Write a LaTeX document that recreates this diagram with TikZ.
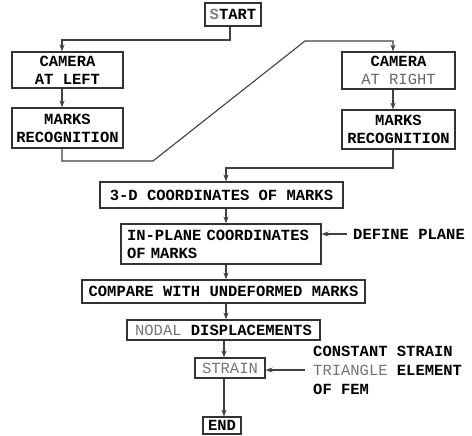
\documentclass[tikz,border=0pt]{standalone}
\usepackage{fontspec}
\setmainfont{Liberation Mono}
\usetikzlibrary{arrows.meta}
\begin{document}
\begin{tikzpicture}[x=1pt,y=-1pt,
  box/.style={draw=black!80,line width=1.1pt,inner sep=0pt,align=center,
    font=\fontsize{15.5pt}{18pt}\selectfont\bfseries},
  lbl/.style={inner sep=0pt,align=left,font=\fontsize{15.5pt}{19pt}\selectfont\bfseries},
  line/.style={draw=black!75,line width=1.1pt},
  arr/.style={line,-{Stealth[length=7pt,width=5pt]}}]
\useasboundingbox (0,0) rectangle (472,436);
\node[box,minimum width=56pt,minimum height=23pt] (start) at (233,14.5) {{\color{black!50}S}TART};
\node[box,minimum width=111pt,minimum height=36pt] (camL) at (67.5,70) {CAMERA\\AT LEFT};
\node[box,minimum width=111pt,minimum height=40pt] (marksL) at (67.5,128) {MARKS\\RECOGNITION};
\node[box,minimum width=113pt,minimum height=37pt] (camR) at (398.5,70.5) {CAMERA\\{\color{black!60}\mdseries AT RIGHT}};
\node[box,minimum width=113pt,minimum height=39pt] (marksR) at (398.5,129.5) {MARKS\\RECOGNITION};
\node[box,minimum width=243pt,minimum height=26pt] (c3d) at (221.5,195) {3-D COORDINATES OF MARKS};
\node[box,minimum width=200pt,minimum height=40pt,align=left,text width=188pt] (inplane) at (221,244) {IN-PLANE COORDINATES\\OF MARKS};
\node[box,minimum width=283pt,minimum height=23pt] (compare) at (223.5,291.5) {COMPARE WITH UNDEFORMED MARKS};
\node[box,minimum width=193pt,minimum height=20pt] (nodal) at (223.5,330) {{\color{black!55}\mdseries NODAL} DISPLACEMENTS};
\node[box,minimum width=70pt,minimum height=20pt] (strain) at (230,368) {{\color{black!55}\mdseries STRAIN}};
\node[box,minimum width=38pt,minimum height=17pt] (end) at (222,425.5) {END};
\node[lbl,anchor=west] (defp) at (353,234) {DEFINE PLANE};
\node[lbl,anchor=west] (cst) at (313,370) {CONSTANT STRAIN\\{\color{black!55}\mdseries TRIANGLE} ELEMENT\\OF FEM};
% connectors
\coordinate (a1) at (230,40);
\coordinate (a2) at (62,40);
\draw[arr] (start.south -| a1) -- (a1) -- (a2) -- (camL.north -| a2);
\draw[arr] (camL.south -| a2) -- (marksL.north -| a2);
\coordinate (b1) at (62,161);
\coordinate (b2) at (153,161);
\coordinate (b3) at (305,41);
\coordinate (b4) at (393,41);
\draw[arr] (marksL.south -| b1) -- (b1) -- (b2) -- (b3) -- (b4) -- (camR.north -| b4);
\draw[arr] (camR.south -| b4) -- (marksR.north -| b4);
\coordinate (c1) at (393,168);
\coordinate (c2) at (226,168);
\draw[arr] (marksR.south -| c1) -- (c1) -- (c2) -- (c3d.north -| c2);
\draw[arr] (c3d.south -| 226,0) -- (inplane.north -| 226,0);
\draw[arr] (inplane.south -| 226,0) -- (compare.north -| 226,0);
\draw[arr] (compare.south -| 226,0) -- (nodal.north -| 226,0);
\draw[arr] (nodal.south -| 224,0) -- (strain.north -| 224,0);
\draw[arr] (strain.south -| 224,0) -- (end.north -| 224,0);
\draw[arr] (defp.west) ++(-6,0) coordinate (d1) -- (inplane.east |- d1);
\draw[arr] (cst.west) ++(-8,0) coordinate (e1) -- (strain.east |- e1);
\end{tikzpicture}
\end{document}
